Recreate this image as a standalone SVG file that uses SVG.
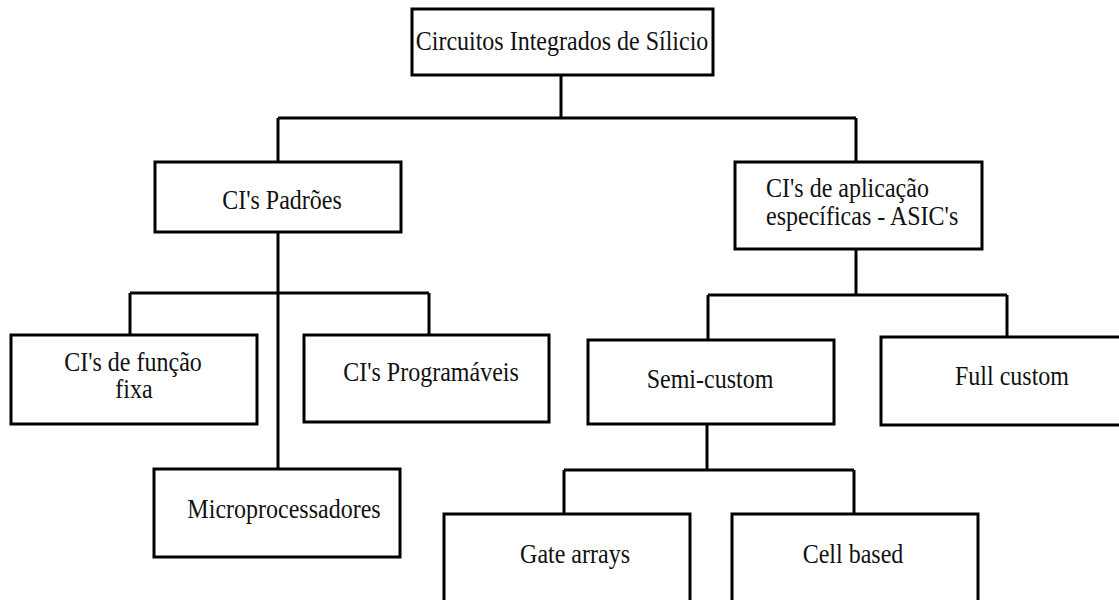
<svg xmlns="http://www.w3.org/2000/svg" width="1119" height="600" viewBox="0 0 1119 600">
<style>
.box{fill:#fff;stroke:#000;stroke-width:3}
.lnk{fill:none;stroke:#000;stroke-width:3}
text{font-family:"Liberation Serif","Times New Roman",serif;font-size:24px;fill:#111}
.c{text-anchor:middle}
</style>
<rect width="1119" height="600" fill="#fff"/>
<g id="connectors">
<path class="lnk" d="M561 75V118M278 118H856M278 118V162M856 118V162"/>
<path class="lnk" d="M278 232V469M130 293H429M130 293V335M429 293V335"/>
<path class="lnk" d="M856 249V295M708 295H1007M708 295V340M1007 295V340"/>
<path class="lnk" d="M707 424V470M564 470H854M564 470V514M854 470V514"/>
</g>
<g id="n-root"><rect class="box" x="412" y="9" width="301" height="66"/><text class="c" transform="translate(562 50) scale(1 1.15)">Circuitos Integrados de Sílicio</text></g>
<g id="n-padroes"><rect class="box" x="155" y="162" width="246" height="70"/><text class="c" transform="translate(282 209) scale(1 1.15)">CI's Padrões</text></g>
<g id="n-asic"><rect class="box" x="735" y="162" width="247" height="87"/><text transform="translate(766 197) scale(1 1.15)"><tspan x="0" y="0">CI's de aplicação</tspan><tspan x="0" y="24.3">específicas - ASIC's</tspan></text></g>
<g id="n-funcao"><rect class="box" x="11" y="335" width="246" height="89"/><text class="c" transform="translate(133 371) scale(1 1.15)"><tspan x="0" y="0">CI's de função</tspan><tspan x="1" y="23.5">fixa</tspan></text></g>
<g id="n-prog"><rect class="box" x="304" y="335" width="245" height="87"/><text class="c" transform="translate(431 381) scale(1 1.15)">CI's Programáveis</text></g>
<g id="n-micro"><rect class="box" x="154" y="469" width="246" height="88"/><text class="c" transform="translate(284 518) scale(1 1.15)">Microprocessadores</text></g>
<g id="n-semi"><rect class="box" x="588" y="340" width="246" height="84"/><text class="c" transform="translate(710 388) scale(1 1.15)">Semi-custom</text></g>
<g id="n-full"><rect class="box" x="881" y="337" width="262" height="88"/><text class="c" transform="translate(1012 385) scale(1 1.15)">Full custom</text></g>
<g id="n-gate"><rect class="box" x="444" y="514" width="246" height="100"/><text class="c" transform="translate(575 563) scale(1 1.15)">Gate arrays</text></g>
<g id="n-cell"><rect class="box" x="732" y="514" width="246" height="100"/><text class="c" transform="translate(853 563) scale(1 1.15)">Cell based</text></g>
</svg>
